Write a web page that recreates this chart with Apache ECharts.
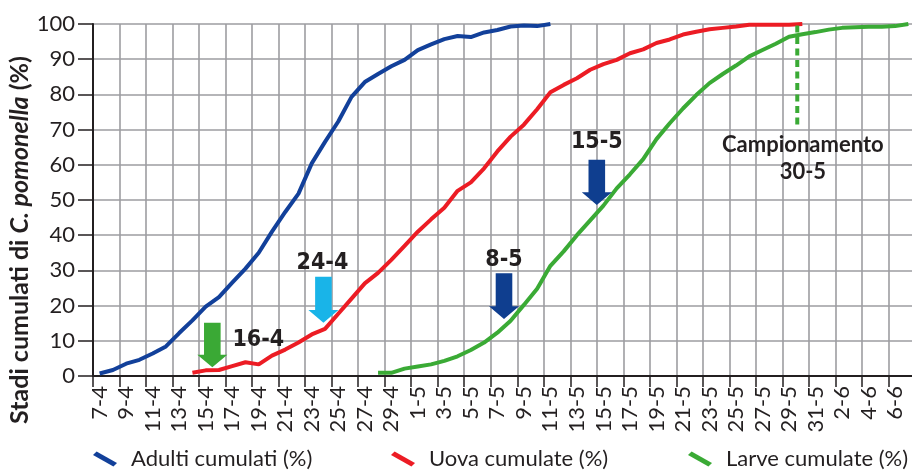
<!DOCTYPE html>
<html>
<head>
<meta charset="utf-8">
<script src="https://cdn.jsdelivr.net/npm/echarts@6/dist/echarts.min.js"></script>
<style>
html,body{margin:0;padding:0;background:#fff;}
#c{width:912px;height:470px;}
</style>
</head>
<body>
<div id="c"></div>
<script>
// ---- DATA ----
const days = ['7-4','8-4','9-4','10-4','11-4','12-4','13-4','14-4','15-4','16-4','17-4','18-4','19-4','20-4','21-4','22-4','23-4','24-4','25-4','26-4','27-4','28-4','29-4','30-4',
'1-5','2-5','3-5','4-5','5-5','6-5','7-5','8-5','9-5','10-5','11-5','12-5','13-5','14-5','15-5','16-5','17-5','18-5','19-5','20-5','21-5','22-5','23-5','24-5','25-5','26-5','27-5','28-5','29-5','30-5','31-5',
'1-6','2-6','3-6','4-6','5-6','6-6','7-6'];

const yTicks = [0,10,20,30,40,50,60,70,80,90,100];

const seriesNames = ['Adulti cumulati (%)','Uova cumulate (%)','Larve cumulate (%)'];

const adultiStart = '7-4';
const adultiValues = [0.7,1.7,3.5,4.6,6.4,8.4,12.2,15.8,19.7,22.4,26.5,30.5,35,41,46.6,51.8,60.4,66.5,72.3,79.3,83.5,85.8,88,89.8,92.6,94.2,95.7,96.6,96.3,97.6,98.3,99.3,99.6,99.4,100];

const uovaStart = '14-4';
const uovaValues = [0.9,1.6,1.7,2.8,3.9,3.3,5.8,7.5,9.5,11.8,13.4,17.7,22,26.3,29.3,33,37,41,44.5,47.8,52.6,55,59,63.8,68,71.4,75.8,80.6,82.7,84.6,87,88.6,89.8,91.7,92.8,94.6,95.6,97,97.8,98.5,98.9,99.3,99.8,99.8,99.8,99.8,100];

const larveStart = '28-4';
const larveValues = [0.9,0.9,2.1,2.7,3.3,4.3,5.6,7.4,9.5,12.3,15.7,20.2,24.8,31.3,35.4,40,44.2,48.4,53.3,57.3,61.6,67.3,71.8,76,79.8,83.2,85.8,88.2,90.8,92.6,94.4,96.4,97.1,97.7,98.4,98.9,99.1,99.2,99.2,99.4,100];

// annotations (dates and values)
const arrowNotes = [
  {text:'16-4', day:'16-4', shift:-0.5, tip:2.5,  top:15.1, color:'#3aa935', dx:46, dy:-27},
  {text:'24-4', day:'24-4', shift:-0.12, tip:15.1, top:28.2, color:'#19b4e8', dx:-1, dy:-60},
  {text:'8-5',  day:'8-5',  shift:-0.5, tip:16.2, top:29.2, color:'#0f3e8f', dx:0, dy:-59},
  {text:'15-5', day:'15-5', shift:-0.5, tip:48.6, top:61.4, color:'#0f3e8f', dx:0, dy:-63}
];
const samplingNote = {lines:['Campionamento','30-5'], day:'30-5', shift:-0.38, from:99.6, to:70.8, textValue:61.8};

// ---- CHART ----
const colors = ['#12409a','#ec1c24','#3aaa35'];
const textColor = '#231f20';
const gridColor = '#9d9da1';
const axisFont = 'Lato, "Noto Sans", sans-serif';
const boldNarrow = '"Liberation Sans Narrow", "DejaVu Sans Condensed", "Roboto", sans-serif';

function toPairs(start, values){
  const s = days.indexOf(start);
  return values.map((v,k)=>[days[s+k], v]);
}

const legendIcon = 'path://M0,3.6 L3.6,0 L24,11.4 L20.4,15 Z';
const legendLefts = [93, 391, 688];

const option = {
  animation:false,
  backgroundColor:'#fff',
  grid:{left:93, top:24, width:822, height:352, containLabel:false, outerBoundsMode:'none'},
  legend: seriesNames.map((n,k)=>({
    data:[n], left:legendLefts[k], top:448, itemWidth:24, itemHeight:16, itemGap:0, padding:0,
    icon:legendIcon,
    textStyle:{fontFamily:axisFont, fontSize:22, color:textColor, padding:[0,0,0,9]}
  })),
  xAxis:{
    type:'category', data:days, boundaryGap:true,
    axisLine:{show:true, lineStyle:{color:textColor, width:2}},
    axisTick:{show:true, interval:1, length:11, lineStyle:{color:textColor, width:1.5}},
    axisLabel:{interval:1, rotate:90, margin:10, fontFamily:axisFont, fontSize:22, color:textColor, hideOverlap:false},
    splitLine:{show:true, interval:1, lineStyle:{color:gridColor, width:1.6}}
  },
  yAxis:{
    type:'value', min:0, max:100, interval:10,
    axisLine:{show:true, lineStyle:{color:textColor, width:2}},
    axisTick:{show:true, length:15, lineStyle:{color:textColor, width:1.5}},
    axisLabel:{margin:18, fontFamily:axisFont, fontSize:22, color:textColor,
      formatter:v=> yTicks.includes(v) ? String(v) : ''},
    splitLine:{show:true, lineStyle:{color:gridColor, width:1.6}}
  },
  series:[
    {name:seriesNames[0], type:'line', data:toPairs(adultiStart, adultiValues), showSymbol:false, symbol:'none',
      lineStyle:{color:colors[0], width:4}, itemStyle:{color:colors[0]}, z:3},
    {name:seriesNames[1], type:'line', data:toPairs(uovaStart, uovaValues), showSymbol:false, symbol:'none',
      lineStyle:{color:colors[1], width:4}, itemStyle:{color:colors[1]}, z:3},
    {name:seriesNames[2], type:'line', data:toPairs(larveStart, larveValues), showSymbol:false, symbol:'none',
      lineStyle:{color:colors[2], width:4}, itemStyle:{color:colors[2]}, z:3}
  ]
};

const chart = echarts.init(document.getElementById('c'), null, {renderer:'canvas'});
chart.setOption(option);

function px(day, val){ return chart.convertToPixel({gridIndex:0}, [day, val]); }
const band = px(days[1],0)[0] - px(days[0],0)[0];

const graphics = [];
arrowNotes.forEach(a=>{
  const t = px(a.day, a.tip), tp = px(a.day, a.top);
  const x = t[0] + a.shift*band, y = t[1], y0 = tp[1];
  const h = y - y0, hw = 15, sw = 8.3, hh = h*0.28;
  graphics.push({type:'polygon', z:10, shape:{points:[[x-sw,y0],[x+sw,y0],[x+sw,y-hh],[x+hw,y-hh],[x,y],[x-hw,y-hh],[x-sw,y-hh]]},
    style:{fill:a.color}});
  graphics.push({type:'text', z:11, x:x+a.dx, y:y+a.dy,
    style:{text:a.text, fill:textColor, font:'bold 23px '+boldNarrow, align:'center', verticalAlign:'middle'}});
});
{
  const p1 = px(samplingNote.day, samplingNote.from), p2 = px(samplingNote.day, samplingNote.to);
  const x = p1[0] + samplingNote.shift*band;
  graphics.push({type:'line', z:10, shape:{x1:x, y1:p1[1], x2:x, y2:p2[1]},
    style:{stroke:colors[2], lineWidth:4, lineDash:[7,4.5]}});
  const pt = px(samplingNote.day, samplingNote.textValue);
  graphics.push({type:'text', z:11, x:x+5.6, y:pt[1],
    style:{text:samplingNote.lines.join('\n'), fill:textColor, font:'bold 22px '+axisFont, lineHeight:27, align:'center', verticalAlign:'middle'}});
}
graphics.push({type:'text', z:11, x:20, y:240, rotation:Math.PI/2,
  style:{text:'{b|Stadi cumulati di }{i|C. pomonella}{b| (%)}', align:'center', verticalAlign:'middle',
    rich:{b:{fontFamily:axisFont, fontWeight:'bold', fontSize:25, fill:textColor, color:textColor},
          i:{fontFamily:axisFont, fontWeight:'bold', fontStyle:'italic', fontSize:25, fill:textColor, color:textColor}}}});
chart.setOption({graphic:{elements:graphics}});
</script>
</body>
</html>
